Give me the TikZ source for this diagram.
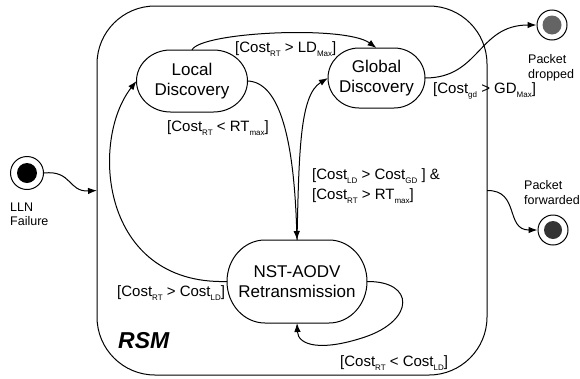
\documentclass[tikz,border=0pt]{standalone}
\usepackage{fontspec}
\setmainfont{Liberation Sans}
\usetikzlibrary{arrows.meta}
% lowered small index, e.g. Cost\ix{RT}
\newcommand{\ix}[1]{\raisebox{-0.55ex}{\fontsize{8}{8}\selectfont #1}}
% outline of a state: flat top and bottom, half-elliptic ends
% #1 node name, #2 end x-radius, #3 half height
\newcommand{\capsule}[3]{%
  \draw[line width=1pt] ([xshift=#2pt]#1.north west) -- ([xshift=-#2pt]#1.north east)
    arc[start angle=90, end angle=-90, x radius=#2pt, y radius=#3pt]
    -- ([xshift=#2pt]#1.south west)
    arc[start angle=270, end angle=90, x radius=#2pt, y radius=#3pt] -- cycle;}
\definecolor{dropgray}{RGB}{100,100,100}
\definecolor{fwdgray}{RGB}{52,52,52}

\begin{document}
\begin{tikzpicture}[x=1pt,y=-1pt,
  state/.style={rectangle, align=center, inner sep=0pt, outer sep=0pt,
    font=\fontsize{17}{19.5}\selectfont},
  guard/.style={inner sep=0pt, font=\fontsize{15}{20}\selectfont},
  caption/.style={inner sep=0pt, align=left, font=\fontsize{12.5}{14.5}\selectfont},
  ring/.style={circle, draw, line width=1pt, minimum size=30pt, inner sep=0pt},
  dot/.style={circle, minimum size=19pt, inner sep=0pt},
  tr/.style={line width=1pt, -{Latex[length=9pt,width=6.5pt]}}
]
\useasboundingbox (0,0) rectangle (580,378);

% composite state
\node[draw, line width=1pt, rounded corners=58pt, minimum width=390pt, minimum height=369pt,
      inner sep=0pt, outer sep=0pt] (rsm) at (292,190.5) {};
\node[anchor=base west, inner sep=0pt, font=\fontsize{23}{23}\selectfont\bfseries\itshape]
      (rsmname) at (118,348) {RSM};

% inner states
\node[state, minimum width=111pt, minimum height=62pt] (ld) at (192,81) {Local\\Discovery};
\node[state, minimum width=97pt, minimum height=60pt] (gd) at (376.5,78) {Global\\Discovery};
\node[state, minimum width=140pt, minimum height=83pt] (nst) at (297,281.5) {NST-AODV\\Retransmission};
\capsule{ld}{34}{31}
\capsule{gd}{31}{30}
\capsule{nst}{38}{41.5}

% initial and final states
\node[ring, minimum size=33pt] (lln) at (27,173) {};
\node[dot, fill=black, minimum size=20pt] (llndot) at (lln) {};
\node[caption, anchor=north west] (llntext) at (10,202.5) {LLN\\Failure};

\node[ring] (pd) at (552,25) {};
\node[dot, fill=dropgray] (pddot) at (pd) {};
\node[caption, anchor=north west] (pdtext) at (528,54.5) {Packet\\dropped};

\node[ring] (pf) at (553,230) {};
\node[dot, fill=fwdgray, minimum size=18pt] (pfdot) at (pf) {};
\node[caption, anchor=north west] (pftext) at (524,180.5) {Packet\\forwarded};

% transitions
\draw[tr] (lln.east) .. controls (72,170) and (68,192) .. (rsm.west);
\draw[tr] (rsm.east) .. controls (520,190) and (505,230) .. (pf.west);
\draw[tr] (gd.east) .. controls (480,78) and (478,25) .. (pd.west);

\draw[tr] (ld.north) .. controls (200,32) and (345,25) .. (gd.north);
\draw[tr] (ld.east) .. controls (280,82) and (294,140) .. (nst.north);
\draw[tr] (nst.north) .. controls (299,150) and (300,95) .. (gd.west);
\draw[tr] (nst.west) .. controls (100,285) and (90,140) .. (ld.west);
\draw[tr] (nst.east) .. controls (415,281) and (415,320) .. (365,337)
                      .. controls (320,352) and (298,345) .. (nst.south);

% guards
\node[guard, anchor=base west] (g1) at (235,52.5) {[Cost\ix{RT} > LD\ix{Max}]};
\node[guard, anchor=base west] (g2) at (167,131) {[Cost\ix{RT} < RT\ix{max}]};
\node[guard, anchor=north west, align=left] (g3) at (312,168)
      {[Cost\ix{LD} > Cost\ix{GD} ] \&\\{}[Cost\ix{RT} > RT\ix{max}]};
\node[guard, anchor=base west] (g4) at (117,296) {[Cost\ix{RT} > Cost\ix{LD}]};
\node[guard, anchor=base west] (g5) at (340,366) {[Cost\ix{RT} < Cost\ix{LD}]};
\node[guard, anchor=base west] (g6) at (433,93) {[Cost\ix{gd} > GD\ix{Max}]};
\end{tikzpicture}
\end{document}
